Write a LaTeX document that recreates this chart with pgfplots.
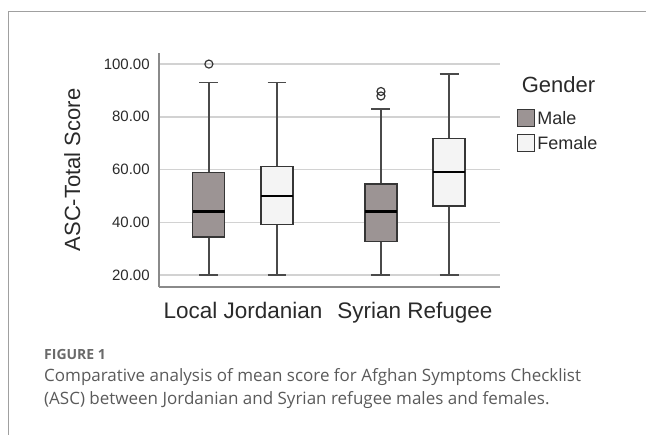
\documentclass[border=0pt]{standalone}
\usepackage{pgfplots}
\pgfplotsset{compat=1.18}
\usepackage{fontspec}
\setmainfont{Liberation Sans}
\newfontfamily\capfont{Open Sans}
\definecolor{malefill}{HTML}{9C9494}
\definecolor{femalefill}{HTML}{F4F4F4}
\definecolor{gridc}{HTML}{D2D2D2}
\definecolor{axc}{HTML}{8A8A8A}
\definecolor{boxc}{HTML}{363636}
\definecolor{whc}{HTML}{4A4A4A}
\definecolor{capc}{HTML}{5A5A5A}
\definecolor{figc}{HTML}{6A6A6A}
\definecolor{framec}{HTML}{A0A0A0}
\definecolor{txtc}{HTML}{2A2A2A}

\begin{document}
\begin{tikzpicture}
\useasboundingbox (0pt,0pt) rectangle (646pt,435pt);
\draw[framec, line width=1pt] (8pt,0pt) -- (8pt,423pt) -- (646pt,423pt);
\begin{axis}[
  at={(159pt,148pt)}, anchor=south west,
  scale only axis, width=341pt, height=234pt,
  xmin=0.512, xmax=2.494, ymin=15.45, ymax=104.2,
  axis x line=bottom, axis y line=left,
  axis line style={-, axc, line width=1.3pt},
  tick style={draw=none},
  xtick={1,2}, xticklabels={Local Jordanian, Syrian Refugee},
  ytick={20,40,60,80,100},
  ymajorgrids, grid style={gridc, line width=1.4pt},
  y tick label style={/pgf/number format/fixed, /pgf/number format/fixed zerofill,
    /pgf/number format/precision=2, /pgf/number format/assume math mode=true,
    font=\fontsize{15}{18}\selectfont, color=txtc, inner sep=0pt, xshift=-7pt},
  x tick label style={font=\fontsize{22.5}{27}\selectfont, color=txtc, inner sep=0pt, yshift=-13pt},
  ylabel={ASC-Total Score},
  ylabel style={font=\fontsize{22}{26}\selectfont, color=txtc, yshift=20pt},
  clip=false,
  legend style={at={(1.0499,0.7607)}, anchor=north west, draw=none, fill=none,
    inner sep=0pt, row sep=7pt, column sep=2pt, nodes={inner sep=0pt},
    font=\fontsize{18}{21}\selectfont, text=txtc},
  legend cell align=left,
]
% ---- whiskers (vertical) ----
\addplot[whc, line width=1.3pt, forget plot] coordinates {(0.802,20) (0.802,93.1)};
\addplot[whc, line width=1.3pt, forget plot] coordinates {(1.198,20) (1.198,93.1)};
\addplot[whc, line width=1.3pt, forget plot] coordinates {(1.802,20) (1.802,83.0)};
\addplot[whc, line width=1.3pt, forget plot] coordinates {(2.198,20) (2.198,96.2)};
% ---- whisker caps ----
\addplot[whc, line width=1.3pt, forget plot] coordinates {(0.747,20) (0.857,20)};
\addplot[whc, line width=1.3pt, forget plot] coordinates {(0.747,93.1) (0.857,93.1)};
\addplot[whc, line width=1.3pt, forget plot] coordinates {(1.143,20) (1.253,20)};
\addplot[whc, line width=1.3pt, forget plot] coordinates {(1.143,93.1) (1.253,93.1)};
\addplot[whc, line width=1.3pt, forget plot] coordinates {(1.747,20) (1.857,20)};
\addplot[whc, line width=1.3pt, forget plot] coordinates {(1.747,83.0) (1.857,83.0)};
\addplot[whc, line width=1.3pt, forget plot] coordinates {(2.143,20) (2.253,20)};
\addplot[whc, line width=1.3pt, forget plot] coordinates {(2.143,96.2) (2.253,96.2)};
% ---- boxes (lower quartile to upper quartile) ----
\addplot[draw=boxc, fill=malefill, line width=1.2pt,
  legend image code/.code={\draw[draw=boxc, fill=malefill, line width=1.1pt] (0pt,-8.5pt) rectangle (17pt,8.5pt);}]
  coordinates {(0.709,34.4) (0.895,34.4) (0.895,58.8) (0.709,58.8)} --cycle;
\addlegendentry{Male}
\addplot[draw=boxc, fill=femalefill, line width=1.2pt,
  legend image code/.code={\draw[draw=boxc, fill=femalefill, line width=1.1pt] (0pt,-8.5pt) rectangle (17pt,8.5pt);}]
  coordinates {(1.105,39.3) (1.291,39.3) (1.291,61.1) (1.105,61.1)} --cycle;
\addlegendentry{Female}
\addplot[draw=boxc, fill=malefill, line width=1.2pt, forget plot] coordinates {(1.709,32.6) (1.895,32.6) (1.895,54.5) (1.709,54.5)} --cycle;
\addplot[draw=boxc, fill=femalefill, line width=1.2pt, forget plot] coordinates {(2.105,46.2) (2.291,46.2) (2.291,71.9) (2.105,71.9)} --cycle;
% ---- medians ----
\addplot[black, line width=2.2pt, forget plot] coordinates {(0.709,44.1) (0.895,44.1)};
\addplot[black, line width=2.2pt, forget plot] coordinates {(1.105,50.1) (1.291,50.1)};
\addplot[black, line width=2.2pt, forget plot] coordinates {(1.709,44.1) (1.895,44.1)};
\addplot[black, line width=2.2pt, forget plot] coordinates {(2.105,59.0) (2.291,59.0)};
% ---- outliers ----
\addplot[only marks, mark=o, mark size=4pt, mark options={draw=boxc, fill=white, line width=1.2pt}, forget plot]
  coordinates {(0.802,100) (1.802,87.9) (1.802,89.6)};
\end{axis}
\node[anchor=base, inner sep=0pt, font=\fontsize{22}{26}\selectfont, text=txtc] at (558.5pt,342pt) {Gender};
\node[anchor=base west, inner sep=0pt, font=\capfont\bfseries\fontsize{14}{17}\selectfont, text=figc] at (44pt,75pt) {FIGURE 1};
\node[anchor=base west, inner sep=0pt, font=\capfont\fontsize{17}{20}\selectfont, text=capc] at (44pt,53pt) {Comparative analysis of mean score for Afghan Symptoms Checklist};
\node[anchor=base west, inner sep=0pt, font=\capfont\fontsize{17}{20}\selectfont, text=capc] at (44pt,30pt) {(ASC) between Jordanian and Syrian refugee males and females.};
\end{tikzpicture}
\end{document}
